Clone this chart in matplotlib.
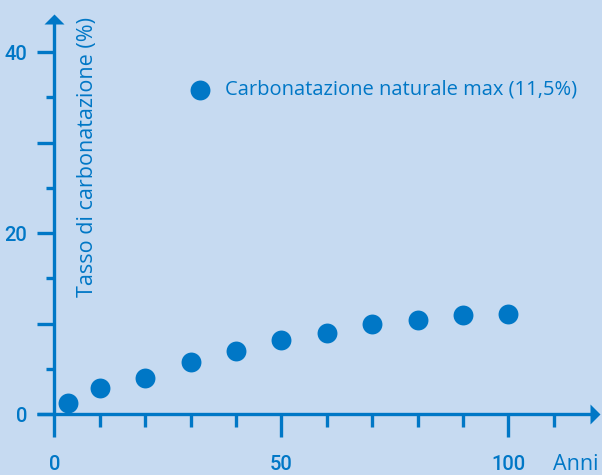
import numpy as np
import matplotlib
matplotlib.use("Agg")
import matplotlib.pyplot as plt
from matplotlib.ticker import FixedLocator

# dati
anni = [3, 10, 20, 30, 40, 50, 60, 70, 80, 90, 100]
tasso = [1.2, 2.9, 4.0, 5.7, 7.0, 8.2, 8.9, 9.9, 10.4, 10.9, 11.1]
x_ticks = [0, 50, 100]
y_ticks = [0, 10, 20, 30, 40]
y_ticklabels = ["0", "", "20", "", "40"]
legend_label = "Carbonatazione naturale max (11,5%)"

bg = "#C6DAF1"
blue = "#0077C6"
txt_font = "Open Sans"
num_font = ["Roboto", "DejaVu Sans"]

fig = plt.figure(figsize=(6.02, 4.75), dpi=100, facecolor=bg)
ax = fig.add_axes([0, 0, 1, 1], facecolor=bg)
ax.set_xlim(-12.0, 120.6)
ax.set_ylim(-6.74, 45.75)

ax.scatter(anni, tasso, s=205, color=blue, linewidths=0, label=legend_label, zorder=3)

# assi con frecce
for side in ["top", "right"]:
    ax.spines[side].set_visible(False)
ax.spines["left"].set_position(("data", 0))
ax.spines["bottom"].set_position(("data", 0))
ax.spines["left"].set_bounds(0, 43.5)
ax.spines["bottom"].set_bounds(-3.9, 119.5)
for side in ["left", "bottom"]:
    ax.spines[side].set_color(blue)
    ax.spines[side].set_linewidth(2.4)
    ax.spines[side].set_capstyle("butt")

ax.plot(120.2, 0, marker=[(-1, -1), (0, 0), (-1, 1)], ms=14.4, color=blue,
        mew=0, clip_on=False)
ax.plot(0, 44.2, marker=[(-1, -1), (0, 0), (1, -1)], ms=14.4, color=blue,
        mew=0, clip_on=False)

ax.xaxis.set_major_locator(FixedLocator(x_ticks))
ax.xaxis.set_minor_locator(FixedLocator(list(range(10, 111, 10))))
ax.set_xticklabels([str(v) for v in x_ticks])
ax.yaxis.set_major_locator(FixedLocator(y_ticks))
ax.yaxis.set_minor_locator(FixedLocator([5, 15, 25, 35]))
ax.set_yticklabels(y_ticklabels)

ax.tick_params(axis="x", which="major", direction="out", length=16.5, width=2.4,
               color=blue, pad=13)
ax.tick_params(axis="x", which="minor", direction="out", length=9.5, width=2.4,
               color=blue)
ax.tick_params(axis="y", which="major", direction="out", length=12.5, width=2.4,
               color=blue, pad=7)
ax.tick_params(axis="y", which="minor", direction="out", length=5.8, width=2.4,
               color=blue)
for lab in ax.get_xticklabels() + ax.get_yticklabels():
    lab.set_fontfamily(num_font)
    lab.set_fontweight("medium")
    lab.set_fontsize(14.5)
    lab.set_color(blue)

ax.text(7.3, 43.9, "Tasso di carbonatazione (%)", rotation=90, ha="center",
        va="top", fontsize=15.5, family=txt_font, color=blue)
ax.text(109.8, -5.6, "Anni", ha="left", va="center", fontsize=15.5,
        family=txt_font, color=blue)

leg = ax.legend(loc="center left", bbox_to_anchor=(190 / 602, 1 - 90 / 475),
                frameon=False, borderpad=0, borderaxespad=0, handlelength=1.0,
                handletextpad=0.75, prop={"family": txt_font, "size": 14.5})
for t in leg.get_texts():
    t.set_color(blue)

fig.savefig("out.png", dpi=100, facecolor=bg)
